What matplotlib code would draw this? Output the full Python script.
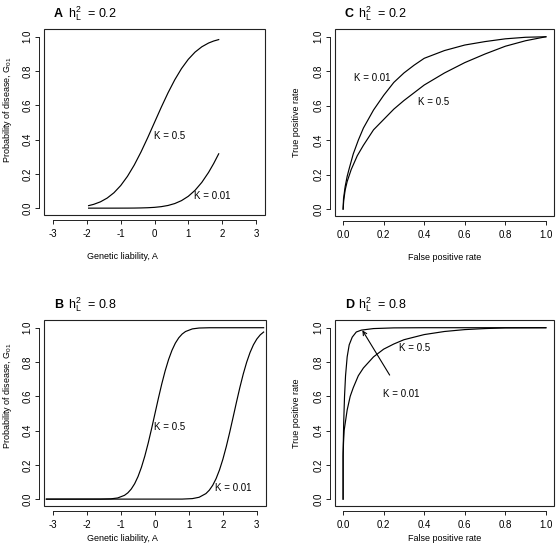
import matplotlib
matplotlib.use("Agg")
import matplotlib.pyplot as plt
from matplotlib.patches import Rectangle

plt.rcParams['font.family'] = ['Liberation Sans', 'DejaVu Sans']
plt.rcParams['mathtext.fontset'] = 'custom'
plt.rcParams['mathtext.rm'] = 'Liberation Sans'
plt.rcParams['mathtext.it'] = 'Liberation Sans:italic'
plt.rcParams['axes.unicode_minus'] = False

# --- panel A: h2 = 0.2, probability of disease vs genetic liability ---
a_x = [-1.95, -1.8, -1.6, -1.4, -1.2, -1.0, -0.8, -0.6, -0.4, -0.2, 0.0,
       0.2, 0.4, 0.6, 0.8, 1.0, 1.2, 1.4, 1.6, 1.75, 1.9]
a_k50 = [0.0146, 0.0221, 0.0368, 0.0588, 0.0898, 0.1318, 0.1856, 0.2512, 0.3274,
         0.4115, 0.5, 0.5885, 0.6726, 0.7488, 0.8144, 0.8682, 0.9102, 0.9412,
         0.9632, 0.9748, 0.9832]
a_k01 = [0.0, 0.0, 0.0, 0.0, 0.0, 0.0001, 0.0002, 0.0005, 0.0012, 0.0024, 0.0046,
         0.0087, 0.0156, 0.0268, 0.0440, 0.0691, 0.1040, 0.1503, 0.2085, 0.2598,
         0.3170]

# --- panel B: h2 = 0.8 ---
b_x50 = [-3.2, -1.6, -1.3, -1.1, -0.9, -0.8, -0.7, -0.6, -0.5, -0.4, -0.3, -0.2,
         -0.1, 0.0, 0.1, 0.2, 0.3, 0.4, 0.5, 0.6, 0.7, 0.8, 0.9, 1.1, 1.3, 1.6, 3.2]
b_k50 = [0.0, 0.0002, 0.0018, 0.0069, 0.0221, 0.0368, 0.0588, 0.0898, 0.1318,
         0.1856, 0.2512, 0.3274, 0.4115, 0.5, 0.5885, 0.6726, 0.7488, 0.8144,
         0.8682, 0.9102, 0.9412, 0.9632, 0.9779, 0.9931, 0.9982, 0.9998, 1.0]
b_x01 = [-3.2, 0.8, 1.1, 1.3, 1.5, 1.6, 1.7, 1.8, 1.9, 2.0, 2.1, 2.2, 2.3, 2.4,
         2.5, 2.6, 2.7, 2.8, 2.9, 3.0, 3.1, 3.2]
b_k01 = [0.0, 0.0003, 0.0031, 0.0109, 0.0324, 0.0523, 0.0808, 0.1198, 0.1704,
         0.2330, 0.3067, 0.3891, 0.4769, 0.5657, 0.6514, 0.7300, 0.7985, 0.8554,
         0.9004, 0.9341, 0.9583, 0.9747]

# --- panel C: ROC, h2 = 0.2 ---
c_fpr01 = [0, 0.002, 0.01, 0.02, 0.03, 0.05, 0.075, 0.1, 0.15, 0.2, 0.25, 0.3,
           0.35, 0.4, 0.5, 0.6, 0.7, 0.8, 0.9, 1.0]
c_tpr01 = [0, 0.06, 0.13, 0.19, 0.235, 0.32, 0.40, 0.47, 0.575, 0.66, 0.735, 0.79,
           0.835, 0.875, 0.92, 0.952, 0.972, 0.988, 0.997, 1.0]
c_fpr50 = [0, 0.003, 0.01, 0.02, 0.04, 0.07, 0.1, 0.15, 0.2, 0.25, 0.3, 0.4, 0.5,
           0.6, 0.7, 0.8, 0.9, 1.0]
c_tpr50 = [0, 0.05, 0.11, 0.16, 0.23, 0.31, 0.37, 0.46, 0.52, 0.58, 0.63, 0.72,
           0.79, 0.85, 0.90, 0.945, 0.977, 1.0]

# --- panel D: ROC, h2 = 0.8 ---
d_fpr01 = [0, 0, 0.003, 0.007, 0.012, 0.02, 0.03, 0.045, 0.065, 0.09, 0.15, 0.25,
           0.4, 1.0]
d_tpr01 = [0, 0.27, 0.45, 0.6, 0.72, 0.83, 0.9, 0.945, 0.975, 0.986, 0.995, 0.999,
           1.0, 1.0]
d_fpr50 = [0, 0, 0.002, 0.005, 0.01, 0.02, 0.035, 0.05, 0.075, 0.1, 0.15, 0.2,
           0.25, 0.3, 0.4, 0.5, 0.6, 0.7, 0.8, 1.0]
d_tpr50 = [0, 0.25, 0.33, 0.4, 0.44, 0.52, 0.6, 0.65, 0.72, 0.765, 0.83, 0.875,
           0.905, 0.93, 0.96, 0.978, 0.989, 0.995, 0.999, 1.0]

liab_ticks = [-3, -2, -1, 0, 1, 2, 3]
prob_ticks = [0.0, 0.2, 0.4, 0.6, 0.8, 1.0]

W, H = 558, 555
fig = plt.figure(figsize=(W / 100, H / 100), dpi=100)


def make_ax(left, top, right, bottom):
    return fig.add_axes([left / W, 1 - bottom / H, (right - left) / W, (bottom - top) / H])


def r_style(ax, xticks, yticks):
    ax.set_xticks(xticks)
    ax.set_xticklabels([f"{t:g}" if isinstance(t, int) else f"{t:.1f}" for t in xticks])
    ax.set_yticks(yticks)
    ax.set_yticklabels([f"{t:.1f}" for t in yticks])
    for s in ['top', 'right']:
        ax.spines[s].set_visible(False)
    ax.spines['bottom'].set_position(('outward', 3.6))
    ax.spines['bottom'].set_bounds(xticks[0], xticks[-1])
    ax.spines['left'].set_position(('outward', 3.6))
    ax.spines['left'].set_bounds(yticks[0], yticks[-1])
    for s in ['bottom', 'left']:
        ax.spines[s].set_linewidth(0.7)
        ax.spines[s].set_color('#222222')
    ax.add_patch(Rectangle((0, 0), 1, 1, transform=ax.transAxes, fill=False,
                           lw=0.8, ec='#222222', clip_on=False))
    ax.tick_params(direction='out', length=3, width=0.7, color='#222222',
                   labelsize=7, pad=2)
    ax.tick_params(axis='x', pad=3.5)
    ax.tick_params(axis='y', labelrotation=90, pad=1.5)
    for lab in ax.get_yticklabels():
        lab.set_va('center')


def title(ax, letter, h2):
    ax.text(0.045, 1.08, letter, transform=ax.transAxes, fontsize=9,
            fontweight='bold', va='center', ha='left')
    ax.text(0.107, 1.08, r"$\mathregular{h_L^2}$  = " + h2, transform=ax.transAxes,
            fontsize=9, va='center', ha='left')


lw = 0.85

# A
axA = make_ax(44, 29, 265, 215)
axA.plot(a_x, a_k50, color='black', lw=lw)
axA.plot(a_x, a_k01, color='black', lw=lw)
axA.set_xlim(-3.27, 3.27)
axA.set_ylim(-0.04, 1.045)
r_style(axA, liab_ticks, prob_ticks)
axA.text(0.44, 0.42, "K = 0.5", fontsize=7, ha='center', va='center')
axA.text(1.72, 0.07, "K = 0.01", fontsize=7, ha='center', va='center')
axA.set_xlabel("Genetic liability, A", fontsize=6.5)
axA.xaxis.set_label_coords(0.353, -0.2)
axA.set_ylabel(r"Probability of disease, G$\mathregular{_{01}}$", fontsize=6.5)
axA.yaxis.set_label_coords(-0.135, 0.565)
title(axA, "A", "0.2")

# B
axB = make_ax(44, 320, 266, 506)
axB.plot(b_x50, b_k50, color='black', lw=lw)
axB.plot(b_x01, b_k01, color='black', lw=lw)
axB.set_xlim(-3.27, 3.27)
axB.set_ylim(-0.04, 1.045)
r_style(axB, liab_ticks, prob_ticks)
axB.text(0.44, 0.42, "K = 0.5", fontsize=7, ha='center', va='center')
axB.text(2.3, 0.064, "K = 0.01", fontsize=7, ha='center', va='center')
axB.set_xlabel("Genetic liability, A", fontsize=6.5)
axB.xaxis.set_label_coords(0.353, -0.148)
axB.set_ylabel(r"Probability of disease, G$\mathregular{_{01}}$", fontsize=6.5)
axB.yaxis.set_label_coords(-0.135, 0.59)
title(axB, "B", "0.8")

# C
axC = make_ax(335, 29, 554, 216)
axC.plot(c_fpr01, c_tpr01, color='black', lw=lw)
axC.plot(c_fpr50, c_tpr50, color='black', lw=lw)
axC.set_xlim(-0.04, 1.04)
axC.set_ylim(-0.04, 1.045)
r_style(axC, prob_ticks, prob_ticks)
axC.text(0.145, 0.763, "K = 0.01", fontsize=7, ha='center', va='center')
axC.text(0.444, 0.621, "K = 0.5", fontsize=7, ha='center', va='center')
axC.set_xlabel("False positive rate", fontsize=6.5)
axC.xaxis.set_label_coords(0.5, -0.2)
axC.set_ylabel("True positive rate", fontsize=6.5)
axC.yaxis.set_label_coords(-0.155, 0.5)
title(axC, "C", "0.2")

# D
axD = make_ax(335, 320, 554, 506)
axD.plot(d_fpr01, d_tpr01, color='black', lw=lw)
axD.plot(d_fpr50, d_tpr50, color='black', lw=lw)
axD.set_xlim(-0.04, 1.04)
axD.set_ylim(-0.04, 1.045)
r_style(axD, prob_ticks, prob_ticks)
axD.text(0.35, 0.88, "K = 0.5", fontsize=7, ha='center', va='center')
axD.annotate("K = 0.01", xy=(0.095, 0.985), xytext=(0.285, 0.616),
             fontsize=7, ha='center', va='center',
             arrowprops=dict(arrowstyle='->', lw=0.8, color='black',
                             shrinkA=9, shrinkB=0))
axD.set_xlabel("False positive rate", fontsize=6.5)
axD.xaxis.set_label_coords(0.5, -0.148)
axD.set_ylabel("True positive rate", fontsize=6.5)
axD.yaxis.set_label_coords(-0.155, 0.5)
title(axD, "D", "0.8")

fig.savefig("out.png", dpi=100)
